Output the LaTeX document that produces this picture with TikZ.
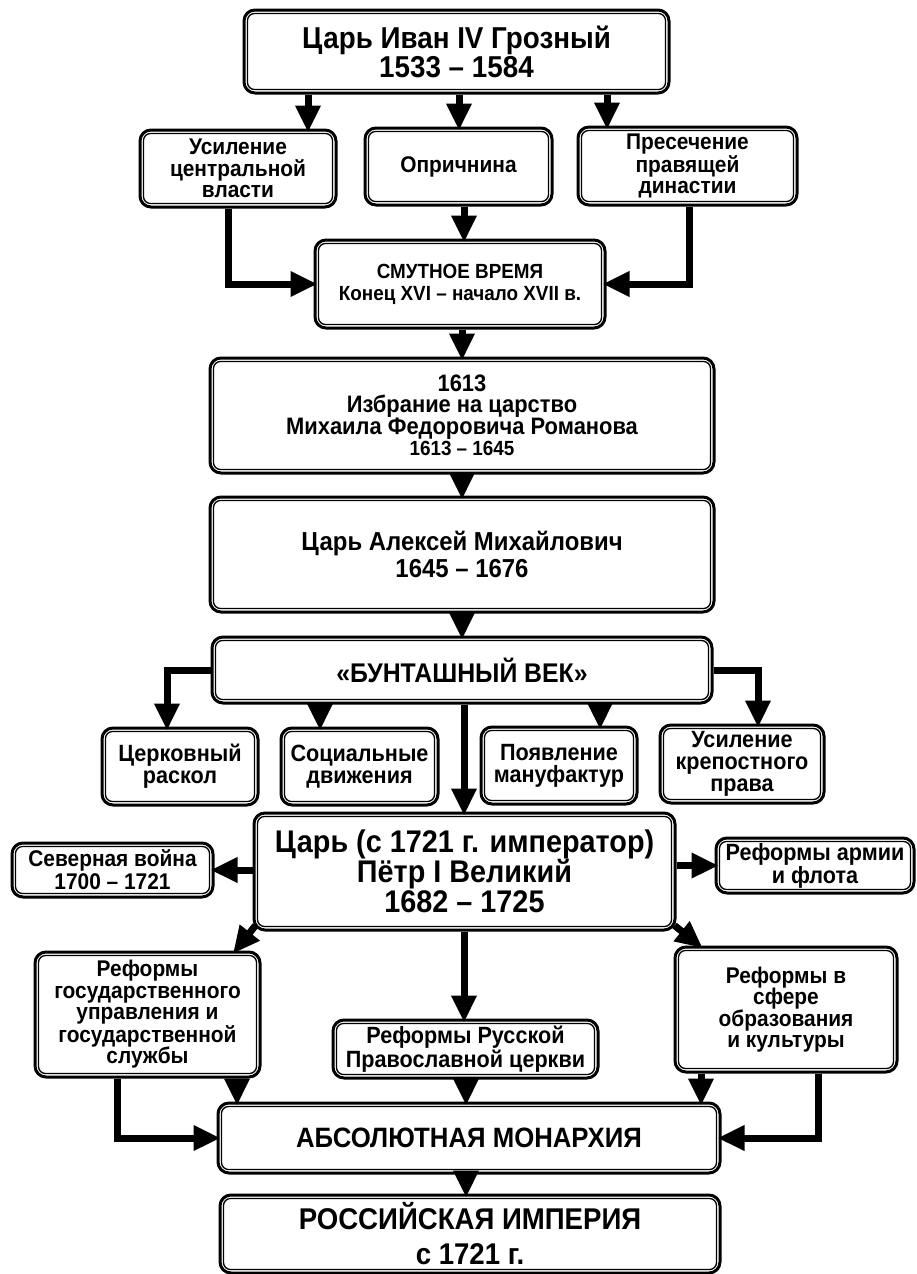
\documentclass[tikz,border=0pt]{standalone}
\usepackage{fontspec}
\setmainfont{Liberation Sans}[FakeStretch=0.92]
\usetikzlibrary{arrows.meta,calc}
\newcommand{\fs}[2]{\fontsize{#1}{#2}\selectfont\bfseries}
\begin{document}
\begin{tikzpicture}[x=1pt,y=-1pt,
  box/.style={draw=black, line width=3pt, rounded corners=11pt, align=center, inner sep=0pt, text=black},
  inbox/.style={draw=black, line width=1.3pt, rounded corners=7pt},
  arr/.style={draw=black, line width=7pt, -{Triangle[length=27pt,width=24pt]}, shorten >=-4pt},
  f28/.style={font=\fs{30.2}{29}},
  f21/.style={font=\fs{22.7}{21.5}},
  f19/.style={font=\fs{20.5}{22}},
  f22/.style={font=\fs{23.8}{21.5}},
  f24/.style={font=\fs{26}{27}},
  f25/.style={font=\fs{27}{27}},
  f22r/.style={font=\fs{23.5}{22}},
  f29/.style={font=\fs{31.3}{30}},
  f21s/.style={font=\fs{22.7}{23}},
  f22a/.style={font=\fs{23.5}{20}},
  f26/.style={font=\fs{28}{28}},
  f28r/.style={font=\fs{30}{35}}
]
\useasboundingbox (0,0) rectangle (916,1274);

% boxes
\node[box,f28,minimum width=425pt,minimum height=83pt] (ivan) at (456.5,51.5) {Царь Иван IV Грозный\\1533 – 1584};
\node[box,f21,minimum width=196pt,minimum height=77pt] (usil) at (238,168.5) {Усиление\\центральной\\власти};
\node[box,f21,minimum width=187pt,minimum height=77pt] (opr) at (458.5,166.5) {Опричнина};
\node[box,f21,minimum width=219pt,minimum height=78pt] (pres) at (687.5,166) {Пресечение\\правящей\\династии};
\node[box,f19,minimum width=290pt,minimum height=88pt] (smut) at (460,284) {СМУТНОЕ ВРЕМЯ\\Конец XVI – начало XVII в.};
\node[box,f22,minimum width=504pt,minimum height=115pt] (mich) at (462,415.5) {1613\\Избрание на царство\\Михаила Федоровича Романова\\{\fs{20.5}{20}1613 – 1645}};
\node[box,f24,minimum width=504pt,minimum height=115pt] (alex) at (462,554.5) {Царь Алексей Михайлович\\1645 – 1676};
\node[box,f25,minimum width=500pt,minimum height=66pt] (bunt) at (462,670) {«БУНТАШНЫЙ ВЕК»};
\node[box,f22r,minimum width=156pt,minimum height=77pt] (cerk) at (180,766.5) {Церковный\\раскол};
\node[box,f22r,minimum width=157pt,minimum height=77pt] (soc) at (359.5,766.5) {Социальные\\движения};
\node[box,f22r,minimum width=156pt,minimum height=77pt] (pojav) at (559,765.5) {Появление\\мануфактур};
\node[box,f22r,minimum width=164pt,minimum height=78pt] (kre) at (742,764) {Усиление\\крепостного\\права};
\node[box,f29,minimum width=421pt,minimum height=117pt] (petr) at (464.5,871.5) {Царь (с 1721 г. император)\\Пётр I Великий\\1682 – 1725};
\node[box,f21s,minimum width=201pt,minimum height=54pt] (sev) at (112.5,870) {Северная война\\1700 – 1721};
\node[box,f22a,minimum width=198pt,minimum height=55pt] (arm) at (815,865.5) {Реформы армии\\и флота};
\node[box,f21,minimum width=225pt,minimum height=125pt] (rgos) at (147.5,1014.5) {Реформы\\государственного\\управления и\\государственной\\службы};
\node[box,f22r,minimum width=265pt,minimum height=58pt] (rrus) at (465.5,1049) {Реформы Русской\\Православной церкви};
\node[box,f21,minimum width=222pt,minimum height=125pt] (robr) at (786,1009.5) {Реформы в\\сфере\\образования\\и культуры};
\node[box,f26,minimum width=502pt,minimum height=70pt] (abs) at (469,1138) {АБСОЛЮТНАЯ МОНАРХИЯ};
\node[box,f28r,minimum width=500pt,minimum height=78pt] (ros) at (470,1234) {РОССИЙСКАЯ ИМПЕРИЯ\\с 1721 г.};

% inner lines of the double frames
\foreach \n in {ivan,usil,opr,pres,smut,mich,alex,bunt,cerk,soc,pojav,kre,petr,sev,arm,rgos,rrus,robr,abs,ros}
  \draw[inbox] ($(\n.south west)+(5pt,5pt)$) rectangle ($(\n.north east)+(-5pt,-5pt)$);

% guide coordinates
\coordinate (g308) at (308,0);
\coordinate (g459) at (459,0);
\coordinate (g607) at (607,0);
\coordinate (g228) at (228,0);
\coordinate (g464) at (464,0);
\coordinate (g689) at (689,0);
\coordinate (g462) at (462,0);
\coordinate (g167) at (167,0);
\coordinate (g320) at (320,0);
\coordinate (g600) at (600,0);
\coordinate (g758) at (758,0);
\coordinate (g237) at (237,0);
\coordinate (g117) at (117,0);
\coordinate (g701) at (701,0);
\coordinate (g818) at (818,0);
\coordinate (g466) at (466,0);

% connectors
\draw[arr] (ivan.south -| g308) -- (usil.north -| g308);
\draw[arr] (ivan.south -| g459) -- (opr.north -| g459);
\draw[arr] (ivan.south -| g607) -- (pres.north -| g607);
\draw[arr] (usil.south -| g228) |- (smut.west);
\draw[arr] (opr.south -| g464) -- (smut.north -| g464);
\draw[arr] (pres.south -| g689) |- (smut.east);
\draw[arr] (smut.south -| g462) -- (mich.north -| g462);
\draw[arr] (mich.south -| g462) -- (alex.north -| g462);
\draw[arr] (alex.south -| g462) -- (bunt.north -| g462);
\draw[arr] (bunt.west) -| (cerk.north -| g167);
\draw[arr] (bunt.south -| g320) -- (soc.north -| g320);
\draw[arr] (bunt.south -| g464) -- (petr.north -| g464);
\draw[arr] (bunt.south -| g600) -- (pojav.north -| g600);
\draw[arr] (bunt.east) -| (kre.north -| g758);
\draw[arr] (petr.west |- sev.east) -- (sev.east);
\draw[arr] (petr.east |- arm.west) -- (arm.west);
\draw[arr] ($(petr.south west)+(3pt,6pt)$) -- ($(rgos.north east)+(-26pt,0)$);
\draw[arr] ($(petr.south east)+(-2pt,6pt)$) -- ($(robr.north west)+(26pt,0)$);
\draw[arr] (petr.south -| g464) -- (rrus.north -| g464);
\draw[arr] (rgos.south -| g237) -- (abs.north -| g237);
\draw[arr] (rgos.south -| g117) |- (abs.west);
\draw[arr] (rrus.south -| g466) -- (abs.north -| g466);
\draw[arr] (robr.south -| g701) -- (abs.north -| g701);
\draw[arr] (robr.south -| g818) |- (abs.east);
\draw[arr] (abs.south -| g466) -- (ros.north -| g466);
\end{tikzpicture}
\end{document}
